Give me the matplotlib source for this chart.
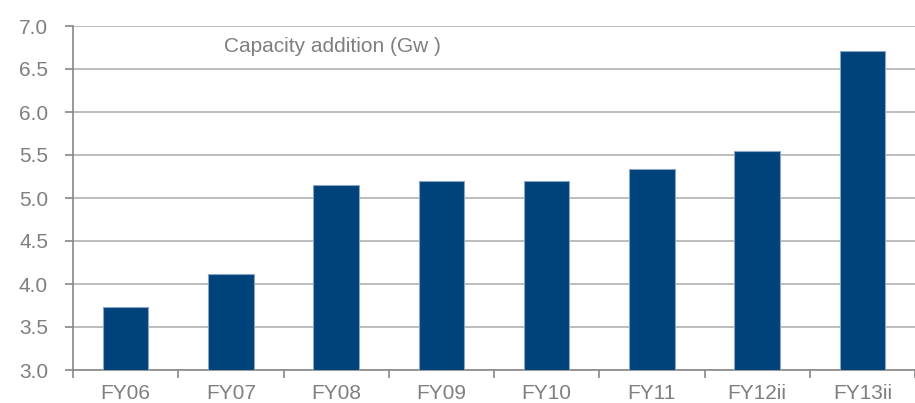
import matplotlib
matplotlib.use("Agg")
import matplotlib.pyplot as plt
import numpy as np

categories = ["FY06", "FY07", "FY08", "FY09", "FY10", "FY11", "FY12ii", "FY13ii"]
values = [3.73, 4.12, 5.15, 5.20, 5.20, 5.34, 5.55, 6.71]
yticks = [3.0, 3.5, 4.0, 4.5, 5.0, 5.5, 6.0, 6.5, 7.0]
title = "Capacity addition (Gw )"

plt.rcParams['font.family'] = ['Liberation Sans', 'DejaVu Sans']
W, H = 915, 403
fig = plt.figure(figsize=(W/100, H/100), dpi=100)
left, right, top, bottom = 73, 915, 26, 370
ax = fig.add_axes([left/W, 1-bottom/H, (right-left)/W, (bottom-top)/H])

x = np.arange(len(categories))
ax.bar(x, values, width=0.43, color="#00427a", edgecolor="#8aa6c4", linewidth=0.8, bottom=0, zorder=3)
ax.set_ylim(3.0, 7.0)
# axis extends slightly beyond image on the right
ax.set_xlim(-0.5, 7.5 - (929-915)/106.7)
ax.set_yticks(yticks)
ax.set_yticklabels([f"{v:.1f}" for v in yticks])
ax.yaxis.grid(True, color="#bdbdbd", linewidth=1.4, zorder=0)
ax.set_axisbelow(True)

ax.set_xticks(x)
ax.set_xticklabels(categories)
ax.set_xticks(np.arange(-0.5, len(categories), 1.0), minor=True)
ax.tick_params(axis='x', which='major', length=0, pad=10, labelsize=15, labelcolor="#7f7f7f")
ax.tick_params(axis='x', which='minor', length=6, width=1.2, color="#888888", direction='out')
ax.tick_params(axis='y', length=6, width=1.2, color="#888888", direction='out', pad=12, labelsize=15, labelcolor="#7f7f7f")

for s in ['top', 'right']:
    ax.spines[s].set_visible(False)
for s in ['left', 'bottom']:
    ax.spines[s].set_color("#888888")
    ax.spines[s].set_linewidth(1.2)

ax.text(0.93, 6.765, title, fontsize=15, color="#7f7f7f", ha='left', va='center')

fig.savefig("out.png", dpi=100)
